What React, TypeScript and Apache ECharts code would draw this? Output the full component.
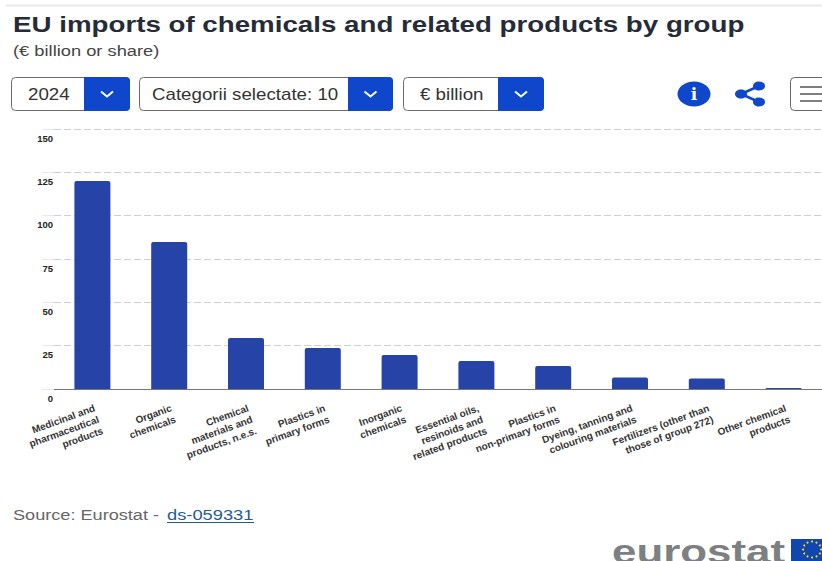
import React, { useEffect, useRef } from "react";
import * as echarts from "echarts";

const categories = [
  "Medicinal and\npharmaceutical\nproducts",
  "Organic\nchemicals",
  "Chemical\nmaterials and\nproducts, n.e.s.",
  "Plastics in\nprimary forms",
  "Inorganic\nchemicals",
  "Essential oils,\nresinoids and\nrelated products",
  "Plastics in\nnon-primary forms",
  "Dyeing, tanning and\ncolouring materials",
  "Fertilizers (other than\nthose of group 272)",
  "Other chemical\nproducts",
];
const values = [120, 84.8, 29.4, 23.7, 19.6, 16.2, 13.3, 6.6, 6, 0.6];
const yMin = 0;
const yMax = 150;
const yInterval = 25;

const FONT = '"Liberation Sans", Arial, sans-serif';
const BLUE = "#0e47cb";

function dropdown(x: number, w: number, split: number, text: string, textX: number) {
  const y = 77;
  const h = 34;
  return [
    { type: "rect", shape: { x: x + 0.5, y: y + 0.5, width: w - 1, height: h - 1, r: 4 }, style: { fill: "#fff", stroke: "#6b6b6b", lineWidth: 1 } },
    { type: "rect", shape: { x: split, y: y, width: x + w - split, height: h, r: [0, 4, 4, 0] }, style: { fill: BLUE } },
    { type: "polyline", shape: { points: [[split + (x + w - split) / 2 - 6, 91.5], [split + (x + w - split) / 2, 96.5], [split + (x + w - split) / 2 + 6, 91.5]] }, style: { fill: "none", stroke: "#fff", lineWidth: 2 } },
    { type: "text", x: textX, y: 94, scaleX: 1.17, style: { text, x: 0, y: 0, font: `16px ${FONT}`, fill: "#333", verticalAlign: "middle" } },
  ];
}

function stars() {
  const out: any[] = [];
  for (let i = 0; i < 12; i++) {
    const a = (i / 12) * Math.PI * 2;
    out.push({ type: "circle", shape: { cx: 812 + 9 * Math.cos(a), cy: 549.5 + 8 * Math.sin(a), r: 1 }, style: { fill: "#ffd617" } });
  }
  return out;
}

export default function App() {
  const ref = useRef<HTMLDivElement>(null);
  useEffect(() => {
    document.body.style.margin = "0";
    const chart = echarts.init(ref.current!, undefined, { renderer: "svg" });
    chart.setOption({
      animation: false,
      grid: { left: 54, right: 0, top: 129, height: 260, containLabel: false, outerBoundsMode: "none" },
      xAxis: {
        type: "category",
        data: categories,
        axisLine: { lineStyle: { color: "#777", width: 1 } },
        axisTick: { length: 8, lineStyle: { color: "#ccd6eb" } },
        axisLabel: {
          interval: 0,
          rotate: 20,
          align: "right",
          verticalAlign: "top",
          margin: 13,
          fontFamily: FONT,
          fontSize: 10,
          fontWeight: "bold",
          lineHeight: 12,
          color: "#333",
        },
      },
      yAxis: {
        type: "value",
        min: yMin,
        max: yMax,
        interval: yInterval,
        axisLine: { show: false },
        axisTick: { show: true, length: 12, lineStyle: { color: "#e4e9f5" } },
        axisLabel: {
          margin: 1,
          verticalAlign: "top",
          padding: [4, 0, 0, 0],
          fontFamily: FONT,
          fontSize: 9.5,
          fontWeight: "bold",
          color: "#222",
        },
        splitLine: { lineStyle: { color: "#cfcfcf", type: [7, 3], width: 1 } },
      },
      series: [
        {
          type: "bar",
          data: values,
          barWidth: 36,
          itemStyle: { color: "#2644a7", borderRadius: [2, 2, 0, 0] },
        },
      ],
      graphic: [
        { type: "line", shape: { x1: 6, y1: 5.5, x2: 822, y2: 5.5 }, style: { stroke: "#e8e8e8", lineWidth: 2 } },
        { type: "text", x: 13, y: 24, scaleX: 1.26, style: { text: "EU imports of chemicals and related products by group", x: 0, y: 0, font: `bold 22px ${FONT}`, fill: "#262b38", verticalAlign: "middle" } },
        { type: "text", x: 13, y: 51, scaleX: 1.22, style: { text: "(€ billion or share)", x: 0, y: 0, font: `15px ${FONT}`, fill: "#444", verticalAlign: "middle" } },
        ...dropdown(11, 119, 84, "2024", 28),
        ...dropdown(139, 254, 348, "Categorii selectate: 10", 152),
        ...dropdown(403, 141, 498, "€ billion", 420),
        { type: "ellipse", shape: { cx: 694, cy: 94, rx: 16.5, ry: 12.5 }, style: { fill: BLUE } },
        { type: "text", style: { text: "i", x: 694, y: 94, font: `bold 17px "DejaVu Serif", serif`, fill: "#fff", align: "center", verticalAlign: "middle" } },
        { type: "polyline", shape: { points: [[759, 86], [741, 94], [759, 102]] }, style: { fill: "none", stroke: BLUE, lineWidth: 2.5 } },
        { type: "ellipse", shape: { cx: 759, cy: 86, rx: 6, ry: 4.5 }, style: { fill: BLUE } },
        { type: "ellipse", shape: { cx: 741, cy: 94, rx: 6, ry: 4.5 }, style: { fill: BLUE } },
        { type: "ellipse", shape: { cx: 759, cy: 102, rx: 6, ry: 4.5 }, style: { fill: BLUE } },
        { type: "rect", shape: { x: 790.5, y: 77.5, width: 50, height: 33, r: 4 }, style: { fill: "#fff", stroke: "#666", lineWidth: 1 } },
        { type: "line", shape: { x1: 800, y1: 87, x2: 822, y2: 87 }, style: { stroke: "#555", lineWidth: 1.5 } },
        { type: "line", shape: { x1: 800, y1: 94, x2: 822, y2: 94 }, style: { stroke: "#555", lineWidth: 1.5 } },
        { type: "line", shape: { x1: 800, y1: 101, x2: 822, y2: 101 }, style: { stroke: "#555", lineWidth: 1.5 } },
        { type: "text", x: 13, y: 515, scaleX: 1.21, style: { text: "Source: Eurostat - ", x: 0, y: 0, font: `15px ${FONT}`, fill: "#666", verticalAlign: "middle" } },
        { type: "text", x: 167, y: 515, scaleX: 1.22, style: { text: "ds-059331", x: 0, y: 0, font: `15px ${FONT}`, fill: "#1f5b99", verticalAlign: "middle" } },
        { type: "line", shape: { x1: 167, y1: 522.5, x2: 254, y2: 522.5 }, style: { stroke: "#1f5b99", lineWidth: 1 } },
        { type: "text", x: 612, y: 568, scaleX: 1.33, style: { text: "eurostat", x: 0, y: 0, font: `bold 33px ${FONT}`, fill: "#7d8083", verticalAlign: "bottom" } },
        { type: "rect", shape: { x: 791, y: 539, width: 31, height: 22 }, style: { fill: "#0f47af" } },
        ...stars(),
      ],
    });
    return () => chart.dispose();
  }, []);
  return <div ref={ref} style={{ width: 822, height: 561 }} />;
}
